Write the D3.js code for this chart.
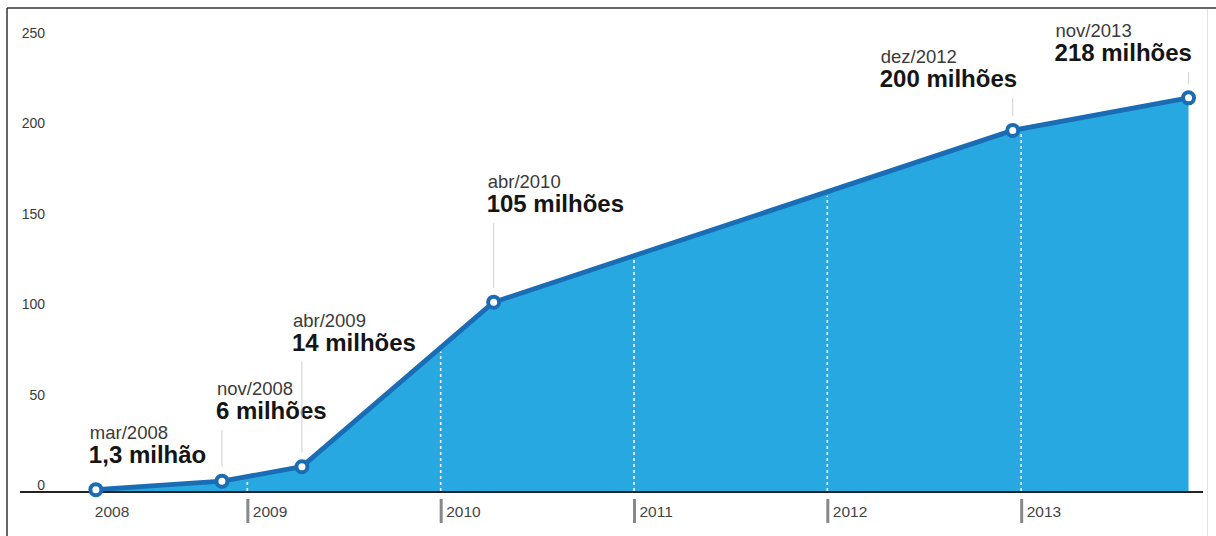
<!DOCTYPE html>
<html>
<head>
<meta charset="utf-8">
<script src="https://cdn.jsdelivr.net/npm/d3@7"></script>
<style>
  html, body { margin: 0; padding: 0; background: #fff; }
  svg { display: block; font-family: "Liberation Sans", Arial, Helvetica, sans-serif; }
</style>
</head>
<body>
<svg id="chart" width="1216" height="536"></svg>
<script>
// Users over time (millions), one entry per milestone
const milestoneDates = ["2008-03-21", "2008-11-14", "2009-04-14", "2010-04-11", "2012-12-16", "2013-11-13"];
const users = [1.3, 6, 14, 105, 200, 218];
const monthLabels = ["mar/2008", "nov/2008", "abr/2009", "abr/2010", "dez/2012", "nov/2013"];
const valueLabels = ["1,3 milhão", "6 milhões", "14 milhões", "105 milhões", "200 milhões", "218 milhões"];
const yTicks = [0, 50, 100, 150, 200, 250];
const yearTicks = ["2009", "2010", "2011", "2012", "2013"];
const firstYearLabel = "2008";

// Callout placement: horizontal shift of the text block and its rise above the point
const calloutDx = [-7, -6, -10, -7, -133, -134];
const calloutRise = [27, 62, 116, 90, 43, 37];
const calloutLeader = [false, true, true, true, true, true];

const parse = d3.utcParse("%Y-%m-%d");
const data = milestoneDates.map((d, i) => ({ date: parse(d), value: users[i] }));

const svg = d3.select("#chart");
const W = 1216, H = 536;
const baseY = 492;

const x = d3.scaleUtc()
  .domain([new Date(Date.UTC(2008, 0, 1)), new Date(Date.UTC(2014, 0, 1))])
  .range([53.5, 1214.5]);
const y = d3.scaleLinear().domain([0, 250]).range([baseY, 40]);

// Frame
svg.append("line").attr("x1", 7).attr("x2", W).attr("y1", 8).attr("y2", 8)
  .attr("stroke", "#333").attr("stroke-width", 1.5);
svg.append("line").attr("x1", 7).attr("x2", 7).attr("y1", 8).attr("y2", H)
  .attr("stroke", "#333").attr("stroke-width", 1.5);
svg.append("line").attr("x1", 1207.5).attr("x2", 1207.5).attr("y1", 9).attr("y2", H)
  .attr("stroke", "#e2e2e2").attr("stroke-width", 1);

// Area and line
const area = d3.area().x(d => x(d.date)).y0(baseY).y1(d => y(d.value));
const line = d3.line().x(d => x(d.date)).y(d => y(d.value));

svg.append("path").datum(data).attr("d", area).attr("fill", "#27a8e0");

// Dashed year dividers inside the filled area
const valueAt = d3.scaleUtc().domain(data.map(d => d.date)).range(data.map(d => d.value));
const yearDates = yearTicks.map(t => new Date(Date.UTC(+t, 0, 1)));
svg.append("g").selectAll("line").data(yearDates).join("line")
  .attr("x1", d => x(d)).attr("x2", d => x(d))
  .attr("y1", baseY - 1).attr("y2", d => y(valueAt(d)) + 4)
  .attr("stroke", "#fff").attr("stroke-width", 1.6)
  .attr("stroke-dasharray", "3,3").attr("opacity", 0.95);

svg.append("path").datum(data).attr("d", line)
  .attr("fill", "none").attr("stroke", "#1a6db5").attr("stroke-width", 4.8)
  .attr("stroke-linejoin", "round");

// Baseline
svg.append("line").attr("x1", 20).attr("x2", 1203).attr("y1", baseY).attr("y2", baseY)
  .attr("stroke", "#222").attr("stroke-width", 2);

// Y axis labels
const yAxis = svg.append("g").attr("transform", "translate(45,0)")
  .call(d3.axisLeft(y).tickValues(yTicks).tickSize(0).tickPadding(0));
yAxis.select(".domain").remove();
yAxis.selectAll("text")
  .attr("y", -7).attr("fill", "#3a3a3a")
  .style("font-size", "14px").style("font-family", "'Liberation Sans', Arial, sans-serif");

// X axis: grey year bars with labels
const xAxis = svg.append("g").attr("transform", `translate(0,${baseY})`)
  .call(d3.axisBottom(x).tickValues(yearDates).tickSize(0).tickFormat(d3.utcFormat("%Y")));
xAxis.select(".domain").remove();
xAxis.selectAll(".tick line")
  .attr("y1", 7).attr("y2", 31).attr("stroke", "#888").attr("stroke-width", 3);
xAxis.selectAll(".tick text")
  .attr("x", 5).attr("y", 25).attr("dy", 0).attr("text-anchor", "start")
  .attr("fill", "#444")
  .style("font-size", "15.5px").style("font-family", "'Liberation Sans', Arial, sans-serif");
svg.append("text")
  .attr("x", x(data[0].date) - 1).attr("y", baseY + 25)
  .attr("fill", "#444").style("font-size", "15.5px")
  .text(firstYearLabel);

// Callouts
const callouts = svg.append("g");
data.forEach((d, i) => {
  const px = x(d.date), py = y(d.value);
  const valueBase = py - calloutRise[i];
  const tx = px + calloutDx[i];
  if (calloutLeader[i]) {
    callouts.append("line")
      .attr("x1", px).attr("x2", px)
      .attr("y1", valueBase + 11).attr("y2", py - 14)
      .attr("stroke", "#cfcfcf").attr("stroke-width", 1);
  }
  callouts.append("text")
    .attr("x", tx + 1).attr("y", valueBase - 24)
    .attr("fill", "#3a3a3a").style("font-size", "18.5px")
    .text(monthLabels[i]);
  callouts.append("text")
    .attr("x", tx).attr("y", valueBase)
    .attr("fill", "#151515").style("font-size", "24px").style("font-weight", "bold")
    .text(valueLabels[i]);
});

// Point markers
svg.append("g").selectAll("circle").data(data).join("circle")
  .attr("cx", d => x(d.date)).attr("cy", d => y(d.value))
  .attr("r", 5.5).attr("fill", "#fff")
  .attr("stroke", "#1a6db5").attr("stroke-width", 4);
</script>
</body>
</html>
